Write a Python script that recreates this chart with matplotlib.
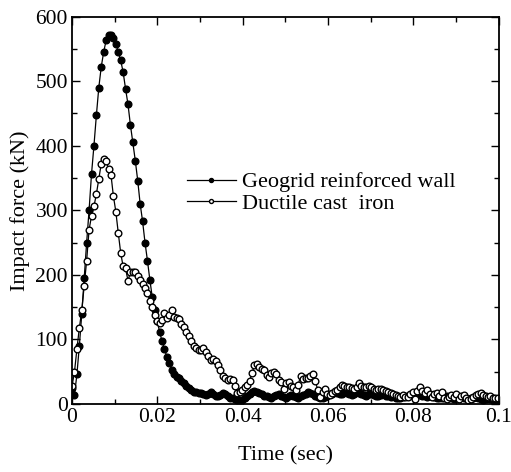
import numpy as np
import matplotlib
matplotlib.use("Agg")
import matplotlib.pyplot as plt

plt.rcParams['font.family'] = ['Liberation Serif', 'DejaVu Serif']
plt.rcParams['mathtext.fontset'] = 'stix'

# time samples (sec), one sample every 0.00057 s
dt = 0.00057
n_pts = 176
t = np.arange(n_pts) * dt

# impact force (kN), geogrid reinforced wall
geogrid = [25, 14, 46, 90, 140, 195, 250, 300, 356, 400, 447, 490, 522, 545, 563, 571, 571, 567, 558, 545,
           532, 514, 488, 464, 432, 405, 377, 346, 310, 283, 250, 222, 192, 165, 145, 128, 112, 97, 85, 73,
           63, 53, 47, 42, 40, 36, 32, 28, 25, 22, 19, 18, 17, 17, 15, 14, 16, 18, 15, 13,
           12, 14, 17, 15, 12, 10, 9, 8, 7, 6, 7, 9, 12, 15, 18, 20, 19, 17, 15, 13,
           12, 11, 10, 12, 14, 15, 13, 11, 10, 12, 14, 13, 11, 10, 12, 14, 16, 18, 17, 15,
           13, 11, 10, 9, 11, 13, 15, 16, 18, 17, 15, 16, 18, 17, 15, 14, 16, 18, 17, 15,
           14, 13, 15, 16, 14, 13, 12, 14, 15, 13, 12, 11, 12, 10, 9, 10, 11, 12, 13, 14,
           15, 16, 15, 14, 13, 12, 11, 12, 13, 11, 10, 9, 10, 11, 12, 11, 9, 8, 9, 10,
           11, 10, 9, 8, 9, 10, 11, 9, 8, 7, 8, 9, 8, 7, 6, 8]

# impact force (kN), ductile cast iron
ductile = [28, 50, 85, 118, 145, 183, 222, 270, 291, 306, 325, 348, 372, 380, 376, 364, 355, 322, 298, 265,
           234, 213, 210, 191, 204, 205, 205, 198, 192, 186, 180, 172, 160, 150, 138, 129, 125, 130, 141, 133,
           138, 146, 135, 133, 131, 124, 119, 112, 105, 97, 90, 86, 84, 84, 86, 80, 74, 68, 69, 67,
           60, 52, 44, 41, 37, 39, 37, 28, 17, 19, 22, 27, 30, 36, 48, 60, 62, 57, 55, 53,
           45, 42, 48, 49, 47, 37, 34, 24, 32, 34, 28, 26, 22, 30, 44, 38, 40, 41, 44, 46,
           36, 22, 11, 18, 24, 16, 14, 17, 20, 22, 27, 29, 28, 26, 26, 25, 24, 27, 32, 28,
           26, 26, 28, 26, 24, 22, 23, 24, 21, 20, 19, 17, 15, 14, 12, 11, 14, 11, 11, 15,
           18, 8, 20, 27, 20, 17, 21, 16, 11, 15, 17, 13, 19, 10, 8, 11, 14, 11, 15, 8,
           13, 14, 9, 6, 8, 11, 14, 16, 17, 14, 12, 11, 13, 10, 9, 9]

x_ticks = [0, 0.02, 0.04, 0.06, 0.08, 0.1]
x_labels = ['0', '0.02', '0.04', '0.06', '0.08', '0.1']
y_ticks = [0, 100, 200, 300, 400, 500, 600]

fig = plt.figure(figsize=(5.11, 4.72), dpi=100)
ax = fig.add_axes([0.141, 0.144, 0.835, 0.821])

ax.plot(t, geogrid, color='black', lw=0.9, marker='o', ms=4.8, mfc='black', mec='black',
        label='Geogrid reinforced wall')
ax.plot(t, ductile, color='black', lw=0.9, marker='o', ms=4.8, mfc='white', mec='black', mew=1,
        label='Ductile cast  iron')

ax.set_xlim(0, 0.1)
ax.set_ylim(0, 600)
ax.set_xticks(x_ticks)
ax.set_xticklabels(x_labels)
ax.set_yticks(y_ticks)
ax.set_xticks(np.arange(0.01, 0.1, 0.02), minor=True)
ax.set_yticks(np.arange(50, 600, 100), minor=True)
ax.tick_params(which='both', direction='in', top=True, right=True, labelsize=15.5, width=1)
ax.tick_params(which='major', length=6, pad=3)
ax.tick_params(which='minor', length=3.5)
for s in ax.spines.values():
    s.set_linewidth(1.3)

ax.set_xlabel('Time (sec)', fontsize=16, labelpad=14)
ax.set_ylabel('Impact force (kN)', fontsize=16, labelpad=4)

ax.legend(loc='center left', bbox_to_anchor=(0.248, 0.545), frameon=False, fontsize=16,
          handlelength=2.2, handletextpad=0.3, labelspacing=0.05, markerscale=0.6,
          borderaxespad=0)

fig.savefig('out.png', dpi=100)
